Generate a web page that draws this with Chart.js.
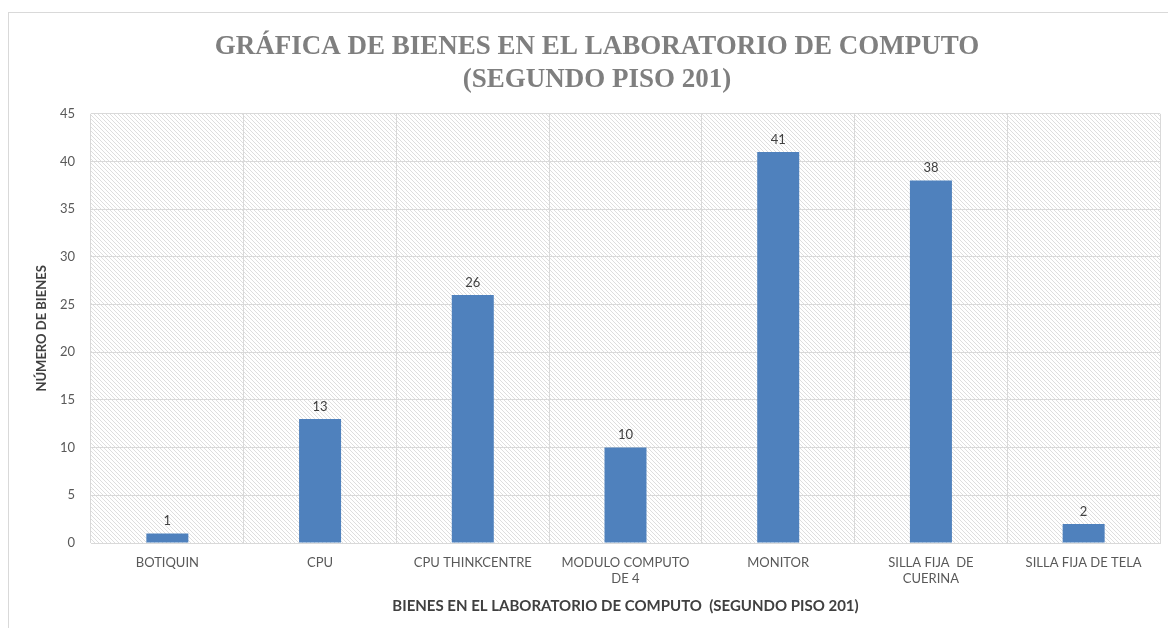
<!DOCTYPE html>
<html>
<head>
<meta charset="utf-8">
<script src="https://cdn.jsdelivr.net/npm/chart.js"></script>
<style>
  body { margin: 0; background: #fff; }
  #wrap { width: 1168px; height: 628px; }
</style>
</head>
<body>
<div id="wrap"><canvas id="myChart"></canvas></div>
<script>
// datos de la grafica
const categorias = [
  "BOTIQUIN",
  "CPU",
  "CPU THINKCENTRE",
  ["MODULO COMPUTO", "DE 4"],
  "MONITOR",
  ["SILLA FIJA  DE", "CUERINA"],
  "SILLA FIJA DE TELA",
];
const bienes = [1, 13, 26, 10, 41, 38, 2];
const tituloGrafica = ["GRÁFICA DE BIENES EN EL LABORATORIO DE COMPUTO", "(SEGUNDO PISO 201)"];
const tituloX = "BIENES EN EL LABORATORIO DE COMPUTO  (SEGUNDO PISO 201)";
const tituloY = "NÚMERO DE BIENES";

// patron rayado del fondo
const makeHatch = () => {
  const n = 4;
  const c = document.createElement("canvas");
  c.width = n;
  c.height = n;
  const g = c.getContext("2d");
  g.fillStyle = "#ffffff";
  g.fillRect(0, 0, n, n);
  g.fillStyle = "#dedede";
  for (let y = 0; y < n; y++) {
    g.fillRect(y % n, y, 1, 1);
  }
  return g.createPattern(c, "repeat");
};

const fondo = {
  id: "fondo",
  beforeDraw: (chart) => {
    const { ctx, chartArea: a } = chart;
    ctx.save();
    ctx.strokeStyle = "#d9d9d9";
    ctx.lineWidth = 1;
    ctx.strokeRect(8.5, 12.5, 1170, 630);
    ctx.fillStyle = makeHatch();
    ctx.fillRect(a.left, a.top, a.right - a.left, a.bottom - a.top);
    ctx.restore();
  },
};

const etiquetas = {
  id: "etiquetas",
  afterDatasetsDraw: (chart) => {
    const { ctx } = chart;
    const meta = chart.getDatasetMeta(0);
    ctx.save();
    ctx.font = "13px Lato";
    ctx.fillStyle = "#404040";
    ctx.textAlign = "center";
    ctx.textBaseline = "bottom";
    meta.data.forEach((bar, i) => {
      ctx.fillText(bienes[i], bar.x, bar.y - 6);
    });
    ctx.restore();
  },
};

const ctx = document.getElementById("myChart").getContext("2d");
const myChart = new Chart(ctx, {
  type: "bar",
  data: {
    labels: categorias,
    datasets: [
      {
        data: bienes,
        backgroundColor: "#4f81bd",
        categoryPercentage: 1,
        barPercentage: 0.275,
      },
    ],
  },
  options: {
    responsive: true,
    maintainAspectRatio: false,
    animation: false,
    layout: { padding: { top: 12, right: 8, left: 34, bottom: 0 } },
    plugins: {
      legend: { display: false },
      tooltip: { enabled: false },
      title: {
        display: true,
        text: tituloGrafica,
        color: "#7f7f7f",
        font: { family: "Liberation Serif", size: 27, weight: "bold", lineHeight: 1.2 },
        padding: { top: 19, bottom: 18 },
      },
    },
    scales: {
      x: {
        afterFit: (s) => { s.height = 85; },
        grid: { color: "#d9d9d9", offset: true, drawTicks: false },
        border: { color: "#d9d9d9" },
        ticks: { color: "#595959", font: { family: "Lato", size: 13 }, padding: 12, maxRotation: 0, autoSkip: false },
        title: {
          display: true,
          text: tituloX,
          color: "#404040",
          font: { family: "Lato", size: 15, weight: "bold" },
          padding: { top: 0, bottom: 13 },
        },
      },
      y: {
        min: 0,
        max: 45,
        afterFit: (s) => { s.width = 57; },
        grid: { color: "#d9d9d9", drawTicks: false },
        border: { display: false },
        ticks: { stepSize: 5, color: "#595959", font: { family: "Lato", size: 13 }, padding: 16 },
        title: {
          display: true,
          text: tituloY,
          color: "#404040",
          font: { family: "Lato", size: 13, weight: "bold" },
          padding: { top: 0, bottom: 0 },
        },
      },
    },
  },
  plugins: [fondo, etiquetas],
});
</script>
</body>
</html>
